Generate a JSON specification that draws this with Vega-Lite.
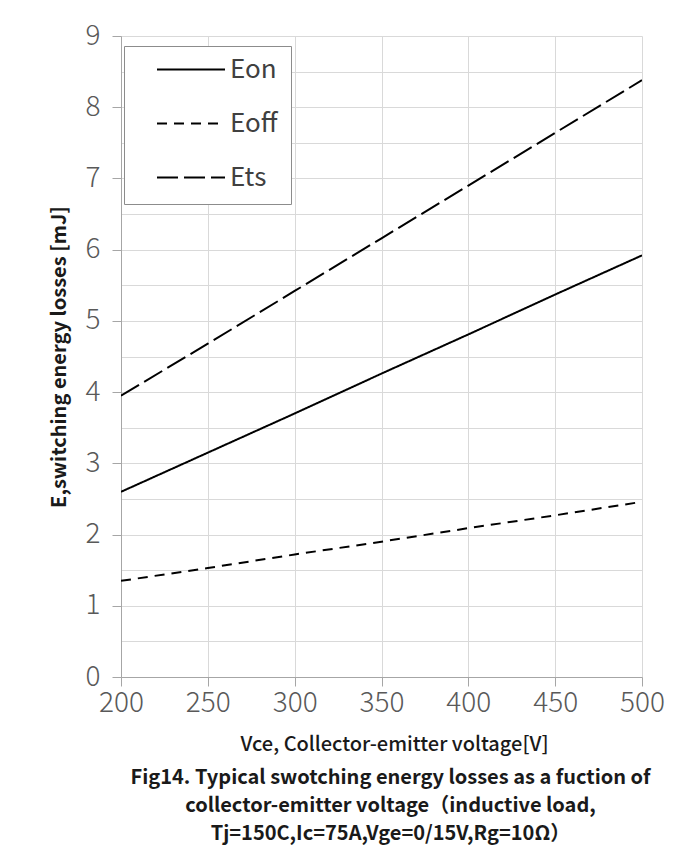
{
  "$schema": "https://vega.github.io/schema/vega-lite/v6.json",
  "width": 521,
  "height": 641,
  "autosize": {"type": "none"},
  "padding": {"left": 121, "top": 36, "right": 55, "bottom": 175},
  "background": "white",
  "config": {
    "view": {"stroke": null},
    "font": "Noto Sans CJK SC"
  },
  "title": {
    "text": ["Fig14. Typical swotching energy losses as a fuction of", "collector-emitter voltage（inductive load,", "Tj=150C,Ic=75A,Vge=0/15V,Rg=10Ω）"],
    "orient": "bottom",
    "anchor": "middle",
    "font": "Noto Sans CJK SC",
    "fontSize": 20,
    "fontWeight": "bold",
    "color": "#1a1a1a",
    "lineHeight": 28,
    "offset": 14,
    "dx": 9
  },
  "data": {
    "values": [
      {"vce": 200, "series": "Eon", "e": 2.60},
      {"vce": 250, "series": "Eon", "e": 3.15},
      {"vce": 300, "series": "Eon", "e": 3.70},
      {"vce": 350, "series": "Eon", "e": 4.26},
      {"vce": 400, "series": "Eon", "e": 4.81},
      {"vce": 450, "series": "Eon", "e": 5.37},
      {"vce": 500, "series": "Eon", "e": 5.92},
      {"vce": 200, "series": "Eoff", "e": 1.35},
      {"vce": 250, "series": "Eoff", "e": 1.53},
      {"vce": 300, "series": "Eoff", "e": 1.72},
      {"vce": 350, "series": "Eoff", "e": 1.90},
      {"vce": 400, "series": "Eoff", "e": 2.09},
      {"vce": 450, "series": "Eoff", "e": 2.27},
      {"vce": 500, "series": "Eoff", "e": 2.46},
      {"vce": 200, "series": "Ets", "e": 3.95},
      {"vce": 250, "series": "Ets", "e": 4.68},
      {"vce": 300, "series": "Ets", "e": 5.42},
      {"vce": 350, "series": "Ets", "e": 6.16},
      {"vce": 400, "series": "Ets", "e": 6.90},
      {"vce": 450, "series": "Ets", "e": 7.64},
      {"vce": 500, "series": "Ets", "e": 8.38}
    ]
  },
  "mark": {"type": "line", "strokeWidth": 2, "color": "black", "clip": true},
  "encoding": {
    "x": {
      "field": "vce",
      "type": "quantitative",
      "scale": {"domain": [200, 500], "nice": false, "zero": false},
      "axis": {
        "values": [200, 250, 300, 350, 400, 450, 500],
        "format": "d",
        "title": "Vce, Collector-emitter voltage[V]",
        "titleFont": "Noto Sans CJK SC",
        "titleFontSize": 20,
        "titleFontWeight": 500,
        "titleColor": "#1a1a1a",
        "titlePadding": 17,
        "titleAnchor": "middle",
        "titleX": 273,
        "labelFont": "Noto Sans CJK SC",
        "labelFontWeight": 300,
        "labelFontSize": 28,
        "labelColor": "#595959",
        "labelPadding": 3,
        "labelFlush": false,
        "tickSize": 9,
        "tickColor": "#a6a6a6",
        "domainColor": "#a6a6a6",
        "gridColor": "#d9d9d9",
        "grid": true
      }
    },
    "y": {
      "field": "e",
      "type": "quantitative",
      "scale": {"domain": [0, 9], "nice": false},
      "axis": {
        "values": [0, 0.5, 1, 1.5, 2, 2.5, 3, 3.5, 4, 4.5, 5, 5.5, 6, 6.5, 7, 7.5, 8, 8.5, 9],
        "labelExpr": "datum.value % 1 === 0 ? format(datum.value, 'd') : ''",
        "tickOpacity": {"condition": {"test": "datum.value % 1 === 0", "value": 1}, "value": 0},
        "title": "E,switching energy losses [mJ]",
        "titleFont": "Noto Sans CJK SC",
        "titleFontSize": 20,
        "titleFontWeight": "bold",
        "titleColor": "#1a1a1a",
        "titlePadding": 16,
        "labelFont": "Noto Sans CJK SC",
        "labelFontWeight": 300,
        "labelFontSize": 28,
        "labelColor": "#595959",
        "labelPadding": 12,
        "labelFlush": false,
        "tickSize": 9,
        "tickColor": "#a6a6a6",
        "domainColor": "#a6a6a6",
        "gridColor": "#d9d9d9",
        "grid": true
      }
    },
    "strokeDash": {
      "field": "series",
      "type": "nominal",
      "scale": {"domain": ["Eon", "Eoff", "Ets"], "range": [[1, 0], [10, 7], [21, 6]]},
      "legend": {
        "orient": "none",
        "legendX": 3,
        "legendY": 10,
        "title": null,
        "symbolType": "stroke",
        "symbolSize": 4624,
        "symbolStrokeWidth": 2,
        "symbolStrokeColor": "black",
        "clipHeight": 21,
        "rowPadding": 27,
        "padding": 13,
        "symbolOffset": 19,
        "labelOffset": 4,
        "labelExpr": "datum.label + '\u2002'",
        "labelFont": "Noto Sans CJK SC",
        "labelFontSize": 26,
        "labelColor": "#404040",
        "fillColor": "white",
        "strokeColor": "#8c8c8c"
      }
    }
  }
}
